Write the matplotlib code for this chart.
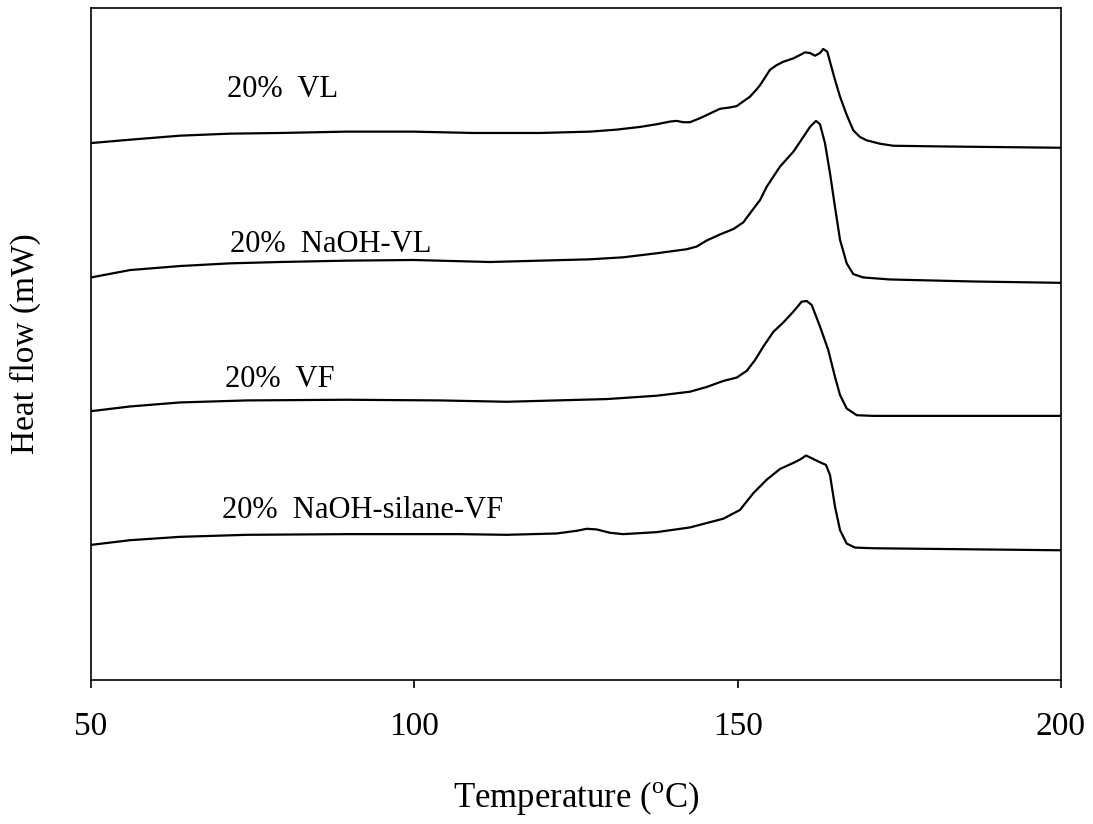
import matplotlib
matplotlib.use('Agg')
import matplotlib.pyplot as plt

# DSC-Kurven (Aufheizen), Wärmestrom in mW, Kurven vertikal versetzt
temp_vl = [50.0, 56.03, 63.76, 71.49, 79.23, 89.54, 99.84, 109.12, 119.43, 127.16,
           131.29, 134.90, 137.48, 139.54, 140.57, 141.59, 142.63, 144.17, 145.72, 147.27,
           148.81, 149.85, 150.87, 151.90, 152.94, 153.45, 155.00, 156.03, 157.06, 158.60,
           159.64, 160.41, 161.18, 161.96, 162.73, 163.24, 163.86, 164.28, 165.05, 165.83,
           166.86, 167.88, 168.92, 169.96, 172.01, 174.07, 181.29, 200.0]
hf_vl = [7.99, 8.04, 8.10, 8.13, 8.14, 8.16, 8.16, 8.14, 8.14, 8.16,
         8.19, 8.23, 8.27, 8.31, 8.32, 8.30, 8.30, 8.36, 8.43, 8.50,
         8.52, 8.54, 8.61, 8.68, 8.79, 8.85, 9.08, 9.15, 9.20, 9.25,
         9.30, 9.34, 9.33, 9.29, 9.33, 9.39, 9.35, 9.20, 8.93, 8.68,
         8.41, 8.18, 8.08, 8.03, 7.98, 7.95, 7.94, 7.92]

temp_naoh_vl = [50.0, 56.03, 63.76, 71.49, 79.23, 89.54, 99.84, 111.70, 119.43, 127.16,
                132.31, 137.48, 142.12, 143.67, 145.21, 147.27, 149.33, 150.87, 152.42, 153.45,
                154.49, 156.55, 158.60, 160.15, 161.18, 162.11, 162.73, 163.50, 164.28, 165.05,
                165.83, 166.86, 167.88, 169.43, 173.55, 186.44, 200.0]
hf_naoh_vl = [5.99, 6.10, 6.16, 6.20, 6.22, 6.24, 6.25, 6.22, 6.24, 6.26,
              6.29, 6.35, 6.41, 6.45, 6.54, 6.63, 6.71, 6.81, 7.01, 7.14,
              7.34, 7.64, 7.86, 8.08, 8.23, 8.32, 8.27, 7.99, 7.54, 7.04,
              6.55, 6.20, 6.04, 5.99, 5.96, 5.93, 5.91]

temp_vf = [50.0, 56.03, 63.76, 74.08, 89.54, 103.97, 114.28, 129.75, 137.48, 142.63,
           145.21, 147.78, 149.85, 151.40, 152.68, 153.96, 155.51, 157.06, 158.60, 159.90,
           160.67, 161.45, 162.73, 164.01, 165.05, 165.83, 166.86, 168.41, 170.98, 200.0]
hf_vf = [4.00, 4.07, 4.13, 4.16, 4.17, 4.16, 4.14, 4.18, 4.23, 4.29,
         4.36, 4.45, 4.50, 4.60, 4.76, 4.96, 5.18, 5.32, 5.48, 5.63,
         5.64, 5.58, 5.26, 4.91, 4.51, 4.24, 4.04, 3.94, 3.93, 3.93]

temp_silane_vf = [50.0, 56.03, 63.76, 74.08, 89.54, 107.06, 114.28, 122.01, 125.11, 126.66,
                  128.20, 130.26, 132.31, 137.48, 142.63, 147.78, 150.36, 152.42, 154.49, 156.55,
                  158.60, 159.64, 160.57, 161.45, 162.73, 163.66, 164.28, 165.05, 165.83, 166.86,
                  168.14, 170.98, 200.0]
hf_silane_vf = [2.01, 2.08, 2.13, 2.16, 2.17, 2.17, 2.16, 2.18, 2.22, 2.25,
                2.24, 2.19, 2.17, 2.20, 2.27, 2.40, 2.53, 2.78, 2.98, 3.14,
                3.23, 3.28, 3.34, 3.30, 3.24, 3.20, 3.05, 2.58, 2.23, 2.03,
                1.97, 1.96, 1.93]

labels = ['20%  VL', '20%  NaOH-VL', '20%  VF', '20%  NaOH-silane-VF']
x_ticks = [50, 100, 150, 200]

plt.rcParams['font.family'] = ['Liberation Serif', 'DejaVu Serif']
plt.rcParams['mathtext.fontset'] = 'custom'
plt.rcParams['mathtext.rm'] = 'Liberation Serif'

fig = plt.figure(figsize=(10.93, 8.24), dpi=100)
ax = fig.add_axes([0.0833, 0.1748, 0.8874, 0.8155])

curves = [(temp_vl, hf_vl), (temp_naoh_vl, hf_naoh_vl),
          (temp_vf, hf_vf), (temp_silane_vf, hf_silane_vf)]
for t, hf in curves:
    ax.plot(t, hf, color='black', linewidth=1.6,
            solid_joinstyle='round', solid_capstyle='round')

# Beschriftung der Kurven (links oberhalb der Basislinie)
label_pos = [(71.0, 8.68), (71.5, 6.37), (70.7, 4.36), (70.3, 2.41)]
for (lx, ly), txt in zip(label_pos, labels):
    ax.text(lx, ly, txt, fontsize=22, ha='left', va='baseline')

ax.set_xlim(50, 200)
ax.set_ylim(0, 10)
ax.set_xticks(x_ticks)
ax.set_xticklabels([str(v) for v in x_ticks])
ax.set_yticks([])
ax.tick_params(axis='x', direction='out', length=6, width=1.2, pad=17, labelsize=24)
for sp in ax.spines.values():
    sp.set_linewidth(1.2)

ax.set_xlabel('Temperature ($^{\\rm o}$C)', fontsize=25, labelpad=26)
ax.set_ylabel('Heat flow (mW)', fontsize=24, labelpad=36)

fig.savefig('out.png', dpi=100)
